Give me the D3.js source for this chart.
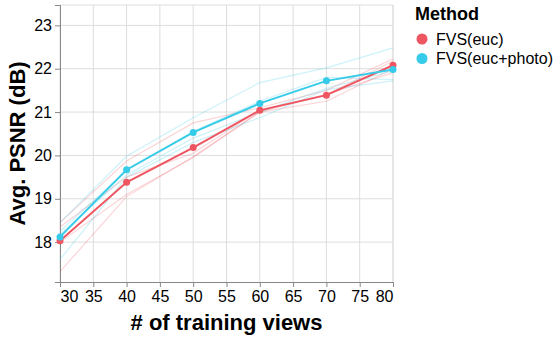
<!DOCTYPE html>
<html>
<head>
<meta charset="utf-8">
<script src="https://cdn.jsdelivr.net/npm/d3@7/dist/d3.min.js"></script>
<style>
  html, body { margin: 0; padding: 0; background: #fff; }
  svg { display: block; font-family: "Liberation Sans", Arial, sans-serif; }
</style>
</head>
<body>
<svg id="chart" width="556" height="337"></svg>
<script>
// Training-view counts on the x axis
const views = [30, 40, 50, 60, 70, 80];
const xTicks = [30, 35, 40, 45, 50, 55, 60, 65, 70, 75, 80];
const yTicks = [18, 19, 20, 21, 22, 23];

const methods = ["FVS(euc)", "FVS(euc+photo)"];
const methodColors = ["#ee5662", "#36cbe8"];

// Mean PSNR per method
const meanEuc = [18.03, 19.38, 20.18, 21.04, 21.39, 22.08];
const meanEucPhoto = [18.12, 19.67, 20.53, 21.20, 21.72, 21.98];

// Per-scene PSNR runs drawn faintly behind the means
const scenesEuc = [
  [18.45, 19.87, 20.75, 21.10, 21.50, 22.23],
  [18.35, 19.50, 20.05, 21.05, 21.40, 22.18],
  [18.00, 19.10, 19.95, 21.00, 21.25, 22.00],
  [17.32, 19.05, 19.97, 21.01, 21.41, 21.91]
];
const scenesEucPhoto = [
  [18.45, 19.98, 20.87, 21.68, 22.02, 22.48],
  [18.25, 19.65, 20.55, 21.25, 21.80, 21.75],
  [18.18, 19.55, 20.40, 21.00, 21.55, 21.95],
  [17.60, 19.50, 20.30, 20.87, 21.52, 21.72]
];

const yDomain = [17.08, 23.47];

const svg = d3.select("#chart");
const padLeft = 60, padTop = 5, plotW = 333, plotH = 277;

const x = d3.scaleLinear().domain([30, 80]).range([padLeft, padLeft + plotW]);
const y = d3.scaleLinear().domain(yDomain).range([padTop + plotH, padTop]);

const g = svg.append("g");

// Grid
g.append("g").selectAll("line").data(xTicks).join("line")
  .attr("x1", d => x(d)).attr("x2", d => x(d))
  .attr("y1", padTop).attr("y2", padTop + plotH)
  .attr("stroke", "#ddd").attr("stroke-width", 1);
g.append("g").selectAll("line").data(yTicks).join("line")
  .attr("x1", padLeft).attr("x2", padLeft + plotW)
  .attr("y1", d => y(d)).attr("y2", d => y(d))
  .attr("stroke", "#ddd").attr("stroke-width", 1);
// Plot frame (top and right edges)
g.append("path")
  .attr("d", `M${padLeft},${padTop}H${padLeft + plotW}V${padTop + plotH}`)
  .attr("fill", "none").attr("stroke", "#ddd");

// Axes
const xAxis = d3.axisBottom(x).tickValues(xTicks).tickFormat(d3.format("d")).tickSize(5).tickPadding(4);
const yAxis = d3.axisLeft(y).tickValues(yTicks).tickFormat(d3.format("d")).tickSize(5).tickPadding(3);

const gx = g.append("g").attr("transform", `translate(0,${padTop + plotH})`).call(xAxis);
const gy = g.append("g").attr("transform", `translate(${padLeft},0)`).call(yAxis);

[gx, gy].forEach(a => {
  a.select(".domain").attr("stroke", "#888");
  a.selectAll(".tick line").attr("stroke", "#888");
  a.selectAll(".tick text").attr("fill", "#000")
    .style("font-size", "16px").style("font-family", "Liberation Sans, Arial, sans-serif");
});
gx.selectAll(".tick text")
  .attr("text-anchor", d => d === 30 ? "start" : (d === 80 ? "end" : "middle"));

// Axis titles
svg.append("text")
  .attr("x", padLeft + plotW / 2).attr("y", 330)
  .attr("text-anchor", "middle")
  .style("font-size", "22px").style("font-weight", "bold")
  .text("# of training views");
svg.append("text")
  .attr("transform", `translate(25,${padTop + plotH / 2}) rotate(-90)`)
  .attr("text-anchor", "middle")
  .style("font-size", "22px").style("font-weight", "bold")
  .text("Avg. PSNR (dB)");

// Lines
const line = d3.line().x((d, i) => x(views[i])).y(d => y(d));
const plot = g.append("g");

const series = [
  { scenes: scenesEuc, mean: meanEuc, color: methodColors[0] },
  { scenes: scenesEucPhoto, mean: meanEucPhoto, color: methodColors[1] }
];

series.forEach(s => {
  plot.append("g").selectAll("path").data(s.scenes).join("path")
    .attr("d", line)
    .attr("fill", "none")
    .attr("stroke", s.color)
    .attr("stroke-opacity", 0.25)
    .attr("stroke-width", 1.2);
});
series.forEach(s => {
  plot.append("path")
    .attr("d", line(s.mean))
    .attr("fill", "none")
    .attr("stroke", s.color)
    .attr("stroke-width", 2);
  plot.append("g").selectAll("circle").data(s.mean).join("circle")
    .attr("cx", (d, i) => x(views[i]))
    .attr("cy", d => y(d))
    .attr("r", 3.5)
    .attr("fill", s.color);
});

// Legend
const legend = svg.append("g").attr("transform", "translate(415,0)");
legend.append("text")
  .attr("x", 0).attr("y", 20)
  .style("font-size", "18px").style("font-weight", "bold")
  .text("Method");
const items = legend.selectAll("g").data(methods).join("g")
  .attr("transform", (d, i) => `translate(0,${39 + i * 19.5})`);
items.append("circle")
  .attr("cx", 7).attr("cy", 0).attr("r", 5.5)
  .attr("fill", (d, i) => methodColors[i]);
items.append("text")
  .attr("x", 21).attr("y", 5.8)
  .style("font-size", "16px")
  .text(d => d);
</script>
</body>
</html>
